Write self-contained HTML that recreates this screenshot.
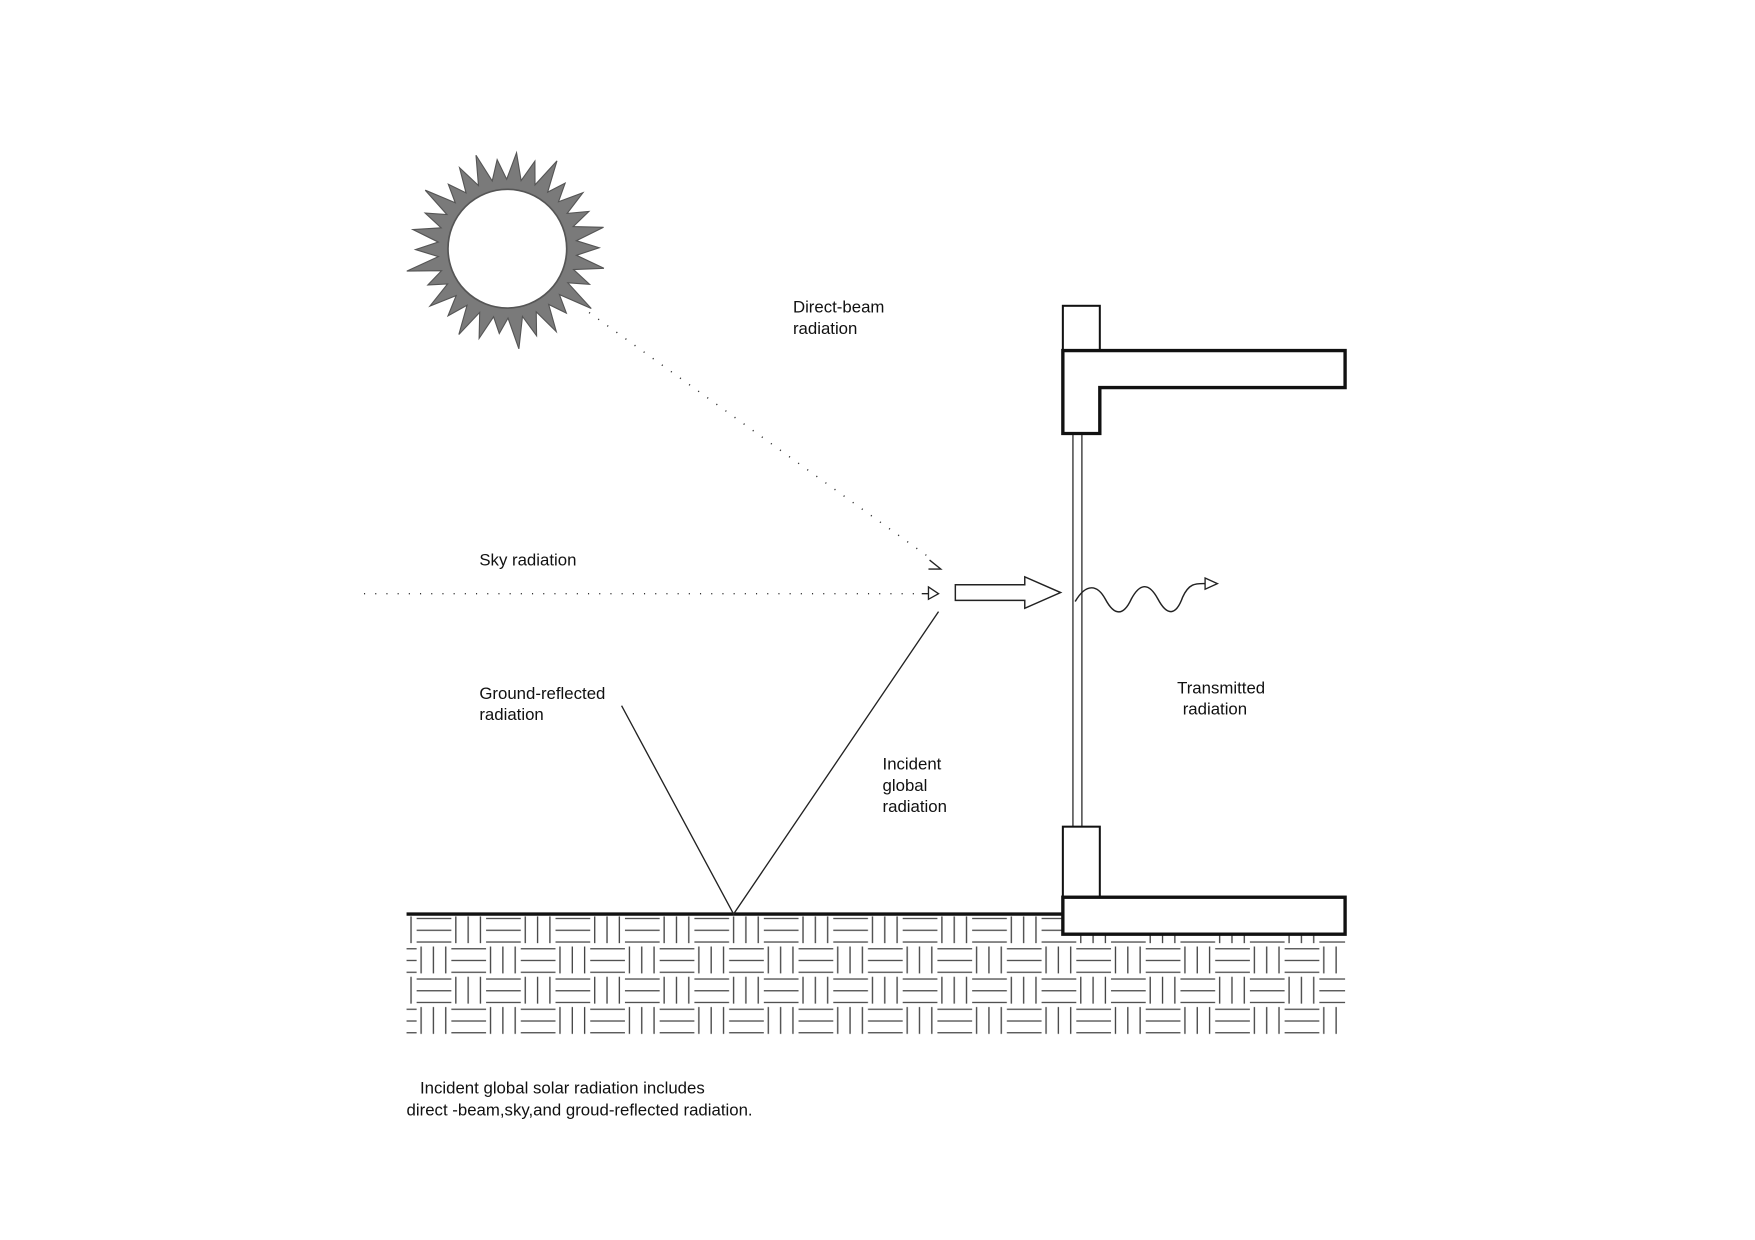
<!DOCTYPE html>
<html><head><meta charset="utf-8"><style>
html,body{margin:0;padding:0;background:#fff;}
svg{display:block;}
text{font-family:"Liberation Sans",Arial,sans-serif;font-size:15px;fill:#111;}
</style></head><body>
<svg id="s" width="1755" height="1240" viewBox="0 0 1567 1107" preserveAspectRatio="none" xmlns="http://www.w3.org/2000/svg">
<defs>
<pattern id="h" patternUnits="userSpaceOnUse" x="368" y="817" width="62" height="54">
<g stroke="#444" stroke-width="1.2" fill="none">
<line x1="4" y1="3" x2="35" y2="3"/><line x1="4" y1="13.5" x2="35" y2="13.5"/><line x1="4" y1="24" x2="35" y2="24"/>
<line x1="39" y1="1" x2="39" y2="25"/><line x1="50" y1="1" x2="50" y2="25"/><line x1="61" y1="1" x2="61" y2="25"/>
<line x1="35" y1="30" x2="66" y2="30"/><line x1="35" y1="40.5" x2="66" y2="40.5"/><line x1="35" y1="51" x2="66" y2="51"/>
<line x1="-27" y1="30" x2="4" y2="30"/><line x1="-27" y1="40.5" x2="4" y2="40.5"/><line x1="-27" y1="51" x2="4" y2="51"/>
<line x1="8" y1="28" x2="8" y2="52"/><line x1="19" y1="28" x2="19" y2="52"/><line x1="30" y1="28" x2="30" y2="52"/>
</g>
</pattern>
</defs>
<rect width="1567" height="1107" fill="#fff"/>
<polygon id="sun" fill="#7a7a7a" stroke="#555" stroke-width="1" points=""/>
<circle cx="453" cy="222" r="53" fill="#fff" stroke="#555" stroke-width="1.5"/>
<line x1="526" y1="279" x2="833" y2="500" stroke="#333" stroke-width="1.3" stroke-dasharray="1 9"/>
<path d="M830 500 L840 508 L829 508" fill="none" stroke="#222" stroke-width="1.2"/>
<line x1="325" y1="530" x2="822" y2="530" stroke="#333" stroke-width="1.3" stroke-dasharray="1 9"/>
<line x1="823" y1="530" x2="829" y2="530" stroke="#222" stroke-width="1.2"/>
<polygon points="829,524 838,530 829,535" fill="#fff" stroke="#222" stroke-width="1.2"/>
<polygon points="853,522 915,522 915,515 947,529 915,543 915,536 853,536" fill="#fff" stroke="#222" stroke-width="1.3"/>
<line x1="958" y1="387" x2="958" y2="738" stroke="#333" stroke-width="1.2"/>
<line x1="966" y1="387" x2="966" y2="738" stroke="#333" stroke-width="1.2"/>
<path d="M960 537 C970 520,980 522,987 535 C995 550,1003 550,1010 535 C1018 520,1026 520,1034 535 C1042 550,1050 550,1056 533 C1062 520,1068 521,1077 521" fill="none" stroke="#222" stroke-width="1.3"/>
<polygon points="1076,516 1087,521 1076,526" fill="#fff" stroke="#222" stroke-width="1.2"/>
<rect x="949" y="273" width="33" height="40" fill="#fff" stroke="#111" stroke-width="1.8"/>
<path d="M949 313 L1201 313 L1201 346 L982 346 L982 387 L949 387 Z" fill="#fff" stroke="#111" stroke-width="3"/>
<rect x="363" y="818" width="838" height="106" fill="url(#h)"/>
<line x1="363" y1="816" x2="949" y2="816" stroke="#111" stroke-width="3"/>
<rect x="949" y="738" width="33" height="63" fill="#fff" stroke="#111" stroke-width="1.8"/>
<rect x="949" y="801" width="252" height="33" fill="#fff" stroke="#111" stroke-width="3"/>
<polyline points="555,630 655,816 838,546" fill="none" stroke="#222" stroke-width="1.2"/>
<text x="708" y="279">Direct-beam</text>
<text x="708" y="298">radiation</text>
<text x="428" y="505">Sky radiation</text>
<text x="428" y="624">Ground-reflected</text>
<text x="428" y="643">radiation</text>
<text x="788" y="687">Incident</text>
<text x="788" y="706">global</text>
<text x="788" y="725">radiation</text>
<text x="1051" y="619">Transmitted</text>
<text x="1056" y="638">radiation</text>
<text x="375" y="976">Incident global solar radiation includes</text>
<text x="363" y="996">direct -beam,sky,and groud-reflected radiation.</text>
</svg>
<script>
(function(){
var cx=453,cy=222,n=30,pts=[];
var R=[88,80,92,78,86,82,90,76,84,88,80,86,78,92,82,86,80,90,78,84,88,80,86,82,90,78,84,80,88,82];
for(var i=0;i<n;i++){
 var a=(i/n)*2*Math.PI+0.2, b=((i+0.5)/n)*2*Math.PI+0.2;
 pts.push((cx+R[i]*Math.cos(a)).toFixed(1)+","+(cy+R[i]*Math.sin(a)).toFixed(1));
 pts.push((cx+62*Math.cos(b)).toFixed(1)+","+(cy+62*Math.sin(b)).toFixed(1));
}
document.getElementById("sun").setAttribute("points",pts.join(" "));
})();
</script>
</body></html>
